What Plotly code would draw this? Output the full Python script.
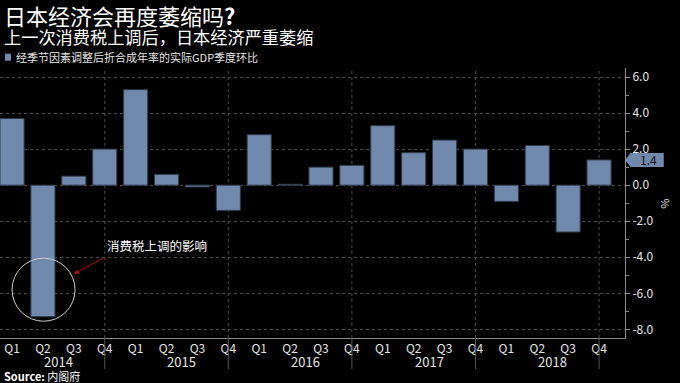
import plotly.graph_objects as go

quarters = ["Q1", "Q2", "Q3", "Q4"] * 5
years = ["2014", "2015", "2016", "2017", "2018"]
gdp_qoq = [3.7, -7.3, 0.5, 2.0, 5.3, 0.6, -0.1, -1.4, 2.8, 0.05,
           1.0, 1.1, 3.3, 1.8, 2.5, 2.0, -0.9, 2.2, -2.6, 1.4]
series_name = "经季节因素调整后折合成年率的实际GDP季度环比"
title = "日本经济会再度萎缩吗<b>?</b>"
subtitle = "上一次消费税上调后，日本经济严重萎缩"
note = "消费税上调的影响"
source = "<b>Source:</b> 内阁府"
y_ticks = [6, 4, 2, 0, -2, -4, -6, -8]

FONT = "Noto Sans CJK SC, Noto Sans, DejaVu Sans, sans-serif"
BAR = "#7189ad"
GRID = "#4d4d4d"
AXIS = "#8c8c8c"
TXT = "#e6e6e6"

x = list(range(len(gdp_qoq)))

fig = go.Figure()
fig.add_trace(go.Bar(
    x=x, y=gdp_qoq, name=series_name, width=0.78,
    marker=dict(color=BAR, line=dict(color="#2f3b4b", width=1)),
    showlegend=False, hoverinfo="skip",
))

shapes = []
annotations = []

# vertical dotted grid + year separators at Q4 positions
for i, q in enumerate(quarters):
    if q == "Q4":
        shapes.append(dict(type="line", xref="x", yref="paper", x0=i, x1=i, y0=0, y1=1,
                           line=dict(color=GRID, width=1, dash="dot"), layer="below"))
        shapes.append(dict(type="line", xref="x", yref="paper", x0=i, x1=i, y0=0, y1=-0.115,
                           line=dict(color="#555555", width=1)))

# year labels
for k, yr in enumerate(years):
    annotations.append(dict(x=4 * k + 1.5, y=-0.086, xref="x", yref="paper", text=yr,
                            showarrow=False, font=dict(size=13, color=TXT, family=FONT),
                            xanchor="center", yanchor="middle", borderpad=0))

# last-value tag on the right axis
last = gdp_qoq[-1]
h = 0.39
shapes.append(dict(type="path", xref="paper", yref="y",
                   path=f"M 1.0,{last} L 1.009,{last + h} L 1.062,{last + h} L 1.062,{last - h} L 1.009,{last - h} Z",
                   fillcolor=BAR, line=dict(width=0)))
annotations.append(dict(x=1.037, y=last, xref="paper", yref="y", text=f"{last:.1f}",
                        showarrow=False, font=dict(size=12, color="#111111", family=FONT),
                        xanchor="center", yanchor="middle", borderpad=0))

# circle highlighting the tax-hike quarter
shapes.append(dict(type="circle", xref="x", yref="y", x0=0.0, x1=2.04, y0=-7.55, y1=-4.05,
                   line=dict(color="#d0d0d0", width=1)))
# arrow
annotations.append(dict(x=2.0, y=-4.93, xref="x", yref="y", text="", showarrow=True,
                        ax=31, ay=-17, arrowhead=2, arrowsize=1, arrowwidth=1,
                        arrowcolor="#b01010"))
annotations.append(dict(x=3.04, y=-3.37, xref="x", yref="y", text=note, showarrow=False,
                        font=dict(size=12.5, color="#ffffff", family=FONT),
                        xanchor="left", yanchor="middle", borderpad=0))

# titles
annotations.append(dict(x=0.004, y=1.1977, xref="paper", yref="paper", text=title, showarrow=False,
                        font=dict(size=22, color="#ffffff", family=FONT), xanchor="left",
                        yanchor="middle", borderpad=0))
annotations.append(dict(x=0.004, y=1.116, xref="paper", yref="paper", text=subtitle, showarrow=False,
                        font=dict(size=17.2, color="#ffffff", family=FONT), xanchor="left",
                        yanchor="middle", borderpad=0))
# legend
shapes.append(dict(type="rect", xref="paper", yref="paper", x0=0.008, x1=0.0176,
                   y0=1.027, y1=1.053, fillcolor=BAR, line=dict(width=0)))
annotations.append(dict(x=0.024, y=1.04, xref="paper", yref="paper", text=series_name, showarrow=False,
                        font=dict(size=11, color=TXT, family=FONT), xanchor="left",
                        yanchor="middle", borderpad=0))
# source
annotations.append(dict(x=0.004, y=-0.14, xref="paper", yref="paper", text=source, showarrow=False,
                        font=dict(size=11, color="#ffffff", family=FONT), xanchor="left",
                        yanchor="middle", borderpad=0))
# % unit label
annotations.append(dict(x=1.065, y=0.5, xref="paper", yref="paper", text="%", showarrow=False,
                        textangle=90, font=dict(size=11, color=TXT, family=FONT),
                        xanchor="center", yanchor="middle", borderpad=0))

fig.update_layout(
    width=680, height=383,
    margin=dict(l=0, r=55, t=68, b=45),
    paper_bgcolor="#000000", plot_bgcolor="#000000",
    font=dict(family=FONT, color=TXT, size=12),
    shapes=shapes, annotations=annotations,
    xaxis=dict(range=[-0.39, 19.84], tickvals=x, ticktext=quarters, showgrid=False,
               zeroline=False, showline=True, linecolor=AXIS, linewidth=1, ticks="",
               tickfont=dict(size=12, color=TXT), fixedrange=True),
    yaxis=dict(side="right", range=[-8.48, 6.5], tickvals=y_ticks,
               ticktext=[f"{v:.1f}" for v in y_ticks],
               showgrid=True, gridcolor=GRID, griddash="dot", gridwidth=1,
               zeroline=False, showline=True, linecolor=AXIS, linewidth=1,
               ticks="outside", ticklen=4, tickcolor=AXIS,
               minor=dict(dtick=1, tick0=0, ticks="outside", ticklen=3, tickcolor=AXIS, showgrid=False),
               tickfont=dict(size=12, color=TXT), fixedrange=True),
)

fig.write_html("out.html", config={"displayModeBar": False},
               post_script="document.body.style.margin='0';document.body.style.background='#000';")
